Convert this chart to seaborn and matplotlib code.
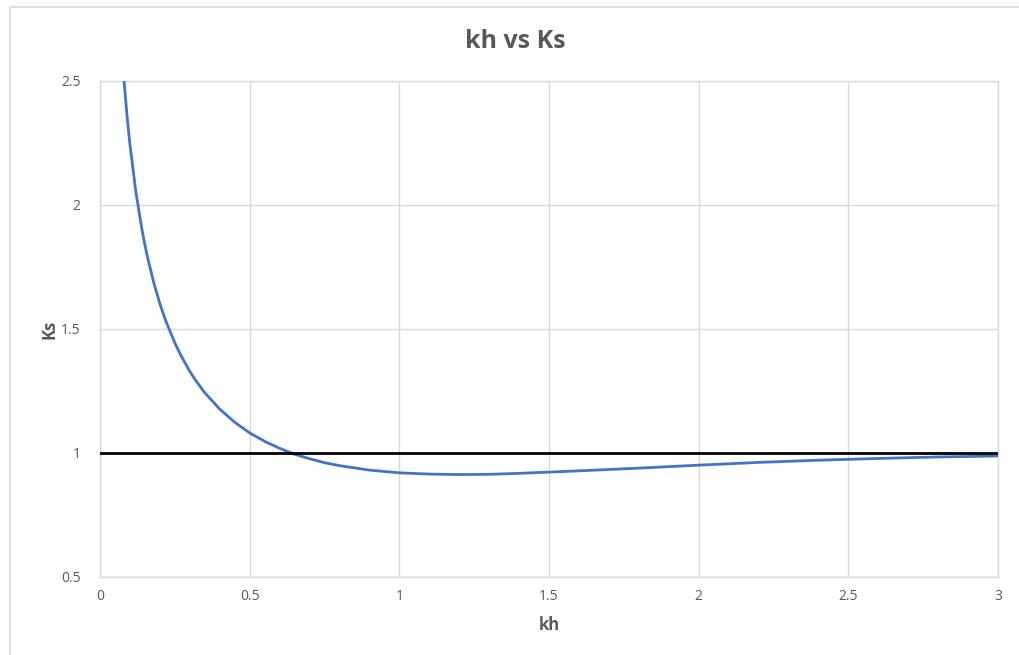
import numpy as np
import pandas as pd
import seaborn as sns
import matplotlib
matplotlib.use("Agg")
import matplotlib.pyplot as plt
from matplotlib.lines import Line2D

# values (shoaling coefficient curve)
kh = [0.08, 0.09, 0.10, 0.12, 0.14, 0.15, 0.16, 0.18, 0.20, 0.22, 0.25, 0.27,
      0.30, 0.32, 0.35, 0.40, 0.45, 0.50, 0.55, 0.60, 0.65, 0.70, 0.75, 0.80,
      0.90, 1.00, 1.10, 1.20, 1.30, 1.40, 1.60, 1.80, 2.00, 2.20, 2.40, 2.60,
      2.80, 3.00]
ks = [2.505, 2.363, 2.244, 2.051, 1.902, 1.839, 1.783, 1.685, 1.602, 1.532,
      1.444, 1.394, 1.329, 1.292, 1.243, 1.177, 1.124, 1.081, 1.047, 1.019,
      0.995, 0.977, 0.961, 0.949, 0.931, 0.920, 0.915, 0.913, 0.914, 0.918,
      0.928, 0.939, 0.951, 0.962, 0.971, 0.978, 0.984, 0.988]
ref_x = [0, 3]
ref_y = [1, 1]

xticks = [0, 0.5, 1, 1.5, 2, 2.5, 3]
yticks = [0.5, 1, 1.5, 2, 2.5]

sns.set_style("white")
plt.rcParams['font.family'] = ['Open Sans', 'DejaVu Sans']

df = pd.DataFrame({"kh": kh, "Ks": ks})

fig = plt.figure(figsize=(10.19, 6.55), dpi=100)
ax = fig.add_axes([100/1019, 78/655, 898/1019, 496/655])

sns.lineplot(data=df, x="kh", y="Ks", ax=ax, color="#4472C4", linewidth=2, zorder=3)
ax.plot(ref_x, ref_y, color="black", linewidth=2, zorder=4)

ax.set_xlim(0, 3)
ax.set_ylim(0.5, 2.5)
ax.set_xticks(xticks)
ax.set_xticklabels([f"{t:g}" for t in xticks])
ax.set_yticks(yticks)
ax.set_yticklabels([f"{t:g}" for t in yticks])
ax.grid(True, color="#d9d9d9", linewidth=1)
for s in ax.spines.values():
    s.set_color("#d9d9d9")
    s.set_linewidth(1)
ax.tick_params(axis="both", length=0, labelsize=10, colors="#595959")
ax.tick_params(axis="x", pad=9)
ax.tick_params(axis="y", pad=14)

ax.set_xlabel("kh", fontsize=12, fontweight="bold", color="#595959", labelpad=8)
ax.set_ylabel("Ks", fontsize=12, fontweight="bold", color="#595959", labelpad=2)
fig.suptitle("kh vs Ks", x=515/1019, y=1-42/655, va="center",
             fontsize=18, fontweight="bold", color="#595959")

# chart area border (left and top edges visible)
fig.add_artist(Line2D([10/1019, 10/1019], [0, 1-7/655], transform=fig.transFigure,
                      color="#d9d9d9", linewidth=1.2))
fig.add_artist(Line2D([10/1019, 1], [1-7/655, 1-7/655], transform=fig.transFigure,
                      color="#d9d9d9", linewidth=1.2))

fig.savefig("out.png", dpi=100)
